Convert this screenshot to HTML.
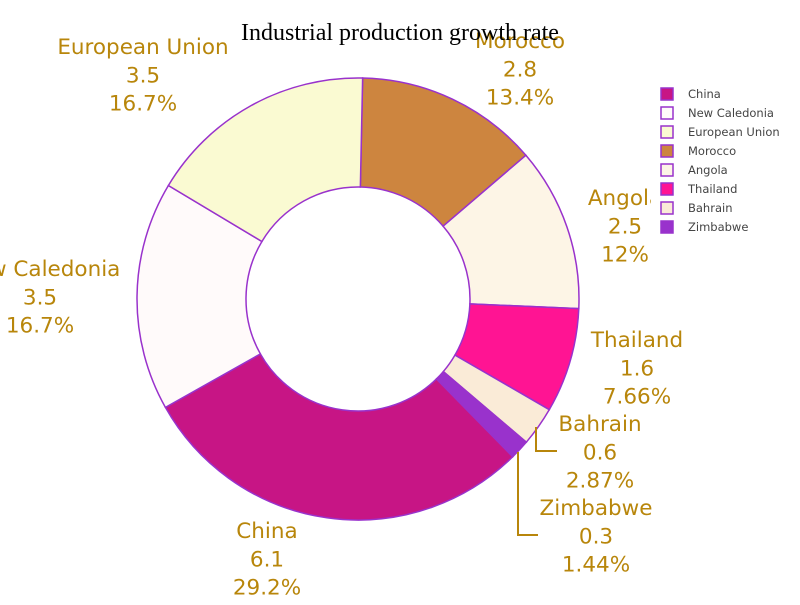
<!DOCTYPE html>
<html><head><meta charset="utf-8"><style>
body{margin:0;background:#fff}
svg{font-family:"DejaVu Sans","Liberation Sans",sans-serif}
</style></head><body>
<svg id="c" width="800" height="600">
<rect width="800" height="600" fill="#fff"/>
<g id="slices"></g><g id="labels"></g><g id="legend"></g>
<text x="400" y="40" text-anchor="middle" font-family="Liberation Serif" font-size="24" fill="#000">Industrial production growth rate</text>
</svg>
<script>
const categories=["Morocco","Angola","Thailand","Bahrain","Zimbabwe","China","New Caledonia","European Union"];
const values=[2.8,2.5,1.6,0.6,0.3,6.1,3.5,3.5];
const legendOrder=["China","New Caledonia","European Union","Morocco","Angola","Thailand","Bahrain","Zimbabwe"];
const colors={"China":"#C71585","New Caledonia":"#FFFAFA","European Union":"#FAFAD2","Morocco":"#CD853F","Angola":"#FDF5E6","Thailand":"#FF1493","Bahrain":"#FAEBD7","Zimbabwe":"#9932CC"};
const labelPos={"Morocco":[520,41],"Angola":[625,198],"Thailand":[637,340],"Bahrain":[600,424],"Zimbabwe":[596,508],"China":[267,531],"New Caledonia":[40,269],"European Union":[143,47]};
const NS="http://www.w3.org/2000/svg";
const cx=358,cy=299,R=221,r=112,rot=1.2*Math.PI/180;
const total=values.reduce((a,b)=>a+b,0);
function pt(a,rad){return [cx+rad*Math.sin(a),cy-rad*Math.cos(a)];}
let acc=0;
const sg=document.getElementById('slices'),lg=document.getElementById('labels'),leg=document.getElementById('legend');
categories.forEach((c,i)=>{
 const a0=rot+acc/total*2*Math.PI;acc+=values[i];const a1=rot+acc/total*2*Math.PI;
 const big=a1-a0>Math.PI?1:0;
 const p0=pt(a0,R),p1=pt(a1,R),q1=pt(a1,r),q0=pt(a0,r);
 const p=document.createElementNS(NS,'path');
 p.setAttribute('d',`M${p0}A${R},${R} 0 ${big} 1 ${p1}L${q1}A${r},${r} 0 ${big} 0 ${q0}Z`);
 p.setAttribute('fill',colors[c]);p.setAttribute('stroke','#9932CC');p.setAttribute('stroke-width','1.5');
 
 
 sg.appendChild(p);
 const [lx,ly]=labelPos[c];
 const t=document.createElementNS(NS,'text');
 t.setAttribute('text-anchor','middle');t.setAttribute('font-size','21.5');t.setAttribute('fill','#B8860B');
 
 
 const pct=values[i]/total*100;
 const lines=[c,String(values[i]),parseFloat(pct.toPrecision(3))+'%'];
 lines.forEach((s,k)=>{const ts=document.createElementNS(NS,'tspan');ts.setAttribute('x',lx);ts.setAttribute('y',ly+7+k*28.3);ts.textContent=s;t.appendChild(ts);});
 lg.appendChild(t);
});
[["M536,427V451H557","bahrain"],["M518,452V535H538","zimbabwe"]].forEach(([d,n])=>{
 const l=document.createElementNS(NS,'path');l.setAttribute('d',d);l.setAttribute('fill','none');l.setAttribute('stroke','#B8860B');l.setAttribute('stroke-width','2');
 
 
 lg.appendChild(l);
});
const bg=document.createElementNS(NS,'rect');
bg.setAttribute('x',651);bg.setAttribute('y',82);bg.setAttribute('width',149);bg.setAttribute('height',156);bg.setAttribute('fill','#fff');


leg.appendChild(bg);
legendOrder.forEach((c,k)=>{
 const g=document.createElementNS(NS,'g');
 
 
 const y=94+k*19;
 const s=document.createElementNS(NS,'rect');
 s.setAttribute('x',661);s.setAttribute('y',y-6);s.setAttribute('width',12);s.setAttribute('height',12);
 s.setAttribute('fill',colors[c]);s.setAttribute('stroke','#9932CC');s.setAttribute('stroke-width','1.5');
 g.appendChild(s);
 const t=document.createElementNS(NS,'text');
 t.setAttribute('x',688);t.setAttribute('y',y+4);t.setAttribute('font-size','11.5');t.setAttribute('fill','#444');
 t.textContent=c;g.appendChild(t);
 leg.appendChild(g);
});
</script>
</body></html>
